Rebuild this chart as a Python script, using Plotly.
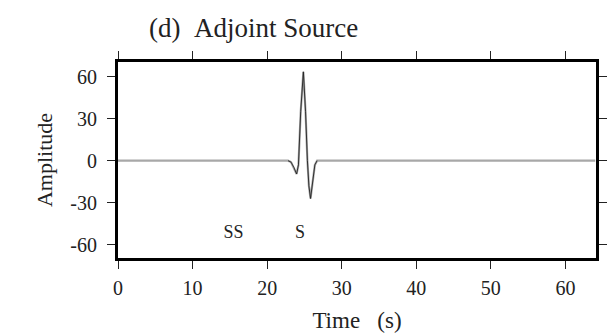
import plotly.graph_objects as go

# Adjoint source waveform (time in s, amplitude)
time_s = [0, 22.8, 23.2, 23.6, 23.95, 24.2, 24.5, 24.86, 25.15, 25.4, 25.6, 25.82, 26.1, 26.4, 26.7, 64]
amplitude = [0, 0, -1, -5, -9.5, -3, 35, 63.5, 35, 0, -18, -27, -15, -3, 0, 0]

phase_labels = ["SS", "S"]
phase_time = [15.5, 24.4]
phase_amp = [-52, -52]

x_ticks = [0, 10, 20, 30, 40, 50, 60]
y_ticks = [-60, -30, 0, 30, 60]
y_tick_text = ["-60", "-30", "0", "30", "60"]

FONT = "Liberation Serif, Times New Roman, serif"

fig = go.Figure()
fig.add_trace(go.Scatter(x=time_s, y=amplitude, mode="lines",
                         line=dict(color="#a8a8a8", width=2.2), hoverinfo="skip"))
fig.add_trace(go.Scatter(x=time_s[1:-1], y=amplitude[1:-1], mode="lines",
                         line=dict(color="#222222", width=0.9), hoverinfo="skip"))
fig.add_trace(go.Scatter(x=phase_time, y=phase_amp, mode="text", text=phase_labels,
                         textfont=dict(family=FONT, size=18, color="#222"),
                         textposition="middle center", hoverinfo="skip"))

fig.update_layout(
    width=613, height=336,
    margin=dict(l=118, r=6, t=62, b=78),
    paper_bgcolor="white", plot_bgcolor="white",
    showlegend=False,
    font=dict(family=FONT, color="#222", size=20),
    annotations=[dict(text="(d)\u00a0\u00a0Adjoint Source", xref="paper", yref="paper",
                      x=0.061, y=1.173, xanchor="left", yanchor="middle",
                      showarrow=False, font=dict(family=FONT, size=27, color="#222"))],
)
fig.update_xaxes(range=[0, 64.1], tickvals=x_ticks, ticks="outside", ticklen=8,
                 tickwidth=1, tickcolor="#222", showline=True, linewidth=3,
                 linecolor="black", mirror="ticks", showgrid=False, zeroline=False,
                 ticklabelstandoff=2, tickfont=dict(size=20),
                 title=dict(text="Time\u00a0\u00a0\u00a0(s)", font=dict(size=23), standoff=14))
fig.update_yaxes(range=[-69.5, 70.5], tickvals=y_ticks, ticktext=y_tick_text,
                 ticks="outside", ticklen=8,
                 tickwidth=1, tickcolor="#222", showline=True, linewidth=3,
                 linecolor="black", mirror="ticks", showgrid=False, zeroline=False,
                 ticklabelstandoff=6, tickfont=dict(size=20),
                 title=dict(text="Amplitude", font=dict(size=22), standoff=12))

fig.write_html("out.html")
